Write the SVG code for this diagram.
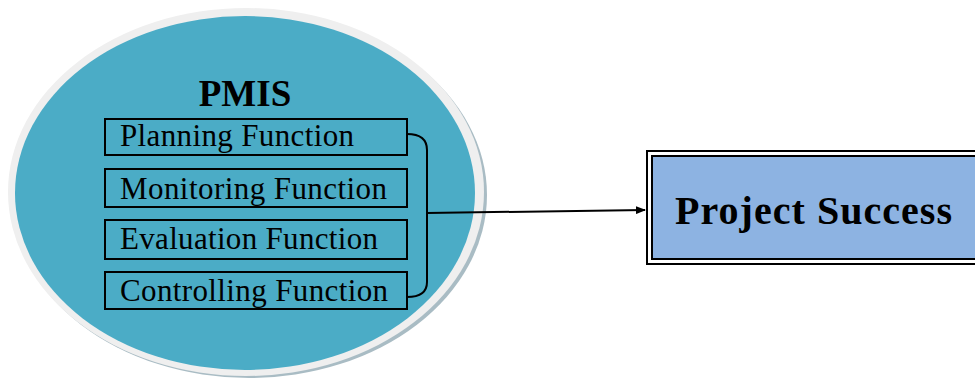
<svg xmlns="http://www.w3.org/2000/svg" width="975" height="380" viewBox="0 0 975 380">
<style>
.fn{fill:none;stroke:#000;stroke-width:2}
.ft{font-family:"Liberation Serif",serif;font-size:31px;fill:#000}
.conn{fill:none;stroke:#000;stroke-width:2}
</style>
<defs>
<marker id="ah" markerWidth="10" markerHeight="8" refX="9" refY="4" orient="auto" markerUnits="userSpaceOnUse">
<path d="M0,0 L10,4 L0,8 Z" fill="#000"/>
</marker>
</defs>
<rect width="975" height="380" fill="#fff"/>
<g id="pmis">
<ellipse cx="249" cy="195" rx="238" ry="183" fill="#a9bcc4"/>
<ellipse cx="246" cy="192" rx="238" ry="184" fill="#efefef"/>
<ellipse cx="245" cy="193" rx="230" ry="177" fill="#4bacc6"/>
<text x="245" y="106" text-anchor="middle" font-family="Liberation Serif,serif" font-weight="bold" font-size="37">PMIS</text>
</g>
<g id="planning">
<rect class="fn" x="105" y="119" width="302" height="36"/>
<text class="ft" x="120" y="146" textLength="234" lengthAdjust="spacing">Planning Function</text>
</g>
<g id="monitoring">
<rect class="fn" x="105" y="169" width="302" height="38"/>
<text class="ft" x="120" y="199" textLength="267" lengthAdjust="spacing">Monitoring Function</text>
</g>
<g id="evaluation">
<rect class="fn" x="105" y="220" width="302" height="39"/>
<text class="ft" x="120" y="249" textLength="258" lengthAdjust="spacing">Evaluation Function</text>
</g>
<g id="controlling">
<rect class="fn" x="105" y="272" width="302" height="37"/>
<text class="ft" x="120" y="301" textLength="268" lengthAdjust="spacing">Controlling Function</text>
</g>
<g id="success">
<rect x="647" y="151" width="340" height="113" fill="#fff" stroke="#000" stroke-width="2"/>
<rect x="652" y="156" width="340" height="103" fill="#8db3e2" stroke="#000" stroke-width="2"/>
<text x="675" y="224" font-family="Liberation Serif,serif" font-weight="bold" font-size="40" textLength="277" lengthAdjust="spacing">Project Success</text>
</g>
<g id="connectors">
<path class="conn" d="M407,134 Q427,134 427,150 L427,282 Q427,297 407,297"/>
<line class="conn" x1="427" y1="213" x2="645" y2="210" marker-end="url(#ah)"/>
</g>
</svg>
